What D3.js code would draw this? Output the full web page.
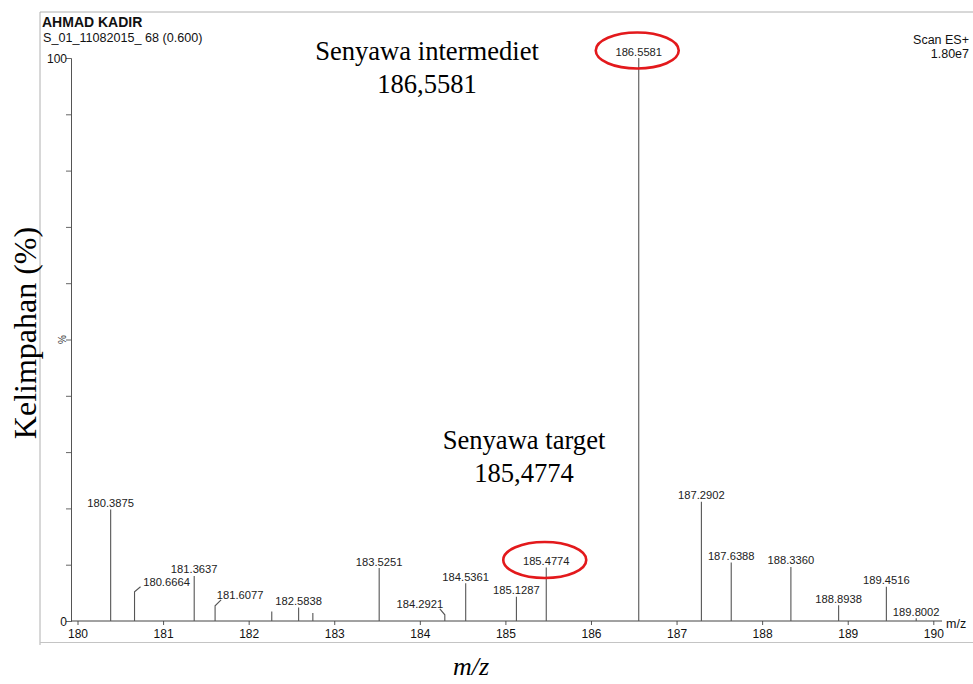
<!DOCTYPE html>
<html>
<head>
<meta charset="utf-8">
<script src="https://cdn.jsdelivr.net/npm/d3@7"></script>
<style>
  body { margin: 0; background: #fff; }
  #chart { width: 973px; height: 684px; }
</style>
</head>
<body>
<div id="chart"></div>
<script>
// peak list (m/z, relative abundance %)
const peakMz = [180.3875, 180.6664, 181.3637, 181.6077, 182.27, 182.5838, 182.75, 183.5251,
    184.2921, 184.5361, 185.1287, 185.4774, 186.5581, 187.2902, 187.6388, 188.3360,
    188.8938, 189.4516, 189.8002];
const peakAbund = [19.8, 5.2, 8.0, 2.7, 1.7, 2.4, 1.4, 9.4,
    1.1, 6.7, 4.3, 9.5, 100, 21.2, 10.4, 9.6,
    2.8, 6.1, 0.5];
const peakLabels = ["180.3875", "180.6664", "181.3637", "181.6077", null, "182.5838", null, "183.5251",
    "184.2921", "184.5361", "185.1287", "185.4774", "186.5581", "187.2902", "187.6388", "188.3360",
    "188.8938", "189.4516", "189.8002"];
const xTicks = [180, 181, 182, 183, 184, 185, 186, 187, 188, 189, 190];
const yTickLabels = [0, 100];
const circled = ["186.5581", "185.4774"];

// labels pushed sideways with a little hook line
const hooks = {"180.6664": {dx: 32, dy: -6}, "181.6077": {dx: 25, dy: -7}, "184.2921": {dx: -25, dy: -7}};

const width = 973, height = 684;
const svg = d3.select("#chart").append("svg")
    .attr("width", width)
    .attr("height", height);

const x = d3.scaleLinear().domain([180, 190]).range([77.5, 933.3]);
const y = d3.scaleLinear().domain([0, 100]).range([621, 58]);
const axisLeftX = 71;

// frame of the scanned printout
svg.append("path")
    .attr("d", "M40,645 L40,12 L973,12")
    .attr("fill", "none").attr("stroke", "#b0b0b0").attr("stroke-width", 1);
svg.append("line")
    .attr("x1", 40).attr("x2", 973).attr("y1", 642.5).attr("y2", 642.5)
    .attr("stroke", "#c4c4c4");

// header
svg.append("text").attr("x", 42).attr("y", 26.5)
    .style("font", "bold 14px 'Liberation Sans', Arial, sans-serif").attr("fill", "#111")
    .text("AHMAD KADIR");
svg.append("text").attr("x", 43).attr("y", 41.5)
    .style("font", "12.6px 'Liberation Sans', Arial, sans-serif").attr("fill", "#111")
    .text("S_01_11082015_ 68 (0.600)");
svg.append("text").attr("x", 969).attr("y", 44).attr("text-anchor", "end")
    .style("font", "12.5px 'Liberation Sans', Arial, sans-serif").attr("fill", "#111")
    .text("Scan ES+");
svg.append("text").attr("x", 969).attr("y", 57.5).attr("text-anchor", "end")
    .style("font", "12.5px 'Liberation Sans', Arial, sans-serif").attr("fill", "#111")
    .text("1.80e7");

// y axis
const yAxis = svg.append("g").attr("transform", `translate(${axisLeftX},0)`)
    .call(d3.axisLeft(y).tickValues(d3.range(0, 101, 10)).tickSize(5)
        .tickFormat(d => yTickLabels.includes(d) ? d : ""));
yAxis.select(".domain").attr("stroke", "#555");
yAxis.selectAll(".tick line").attr("stroke", "#666");
yAxis.selectAll(".tick text")
    .style("font", "12px 'Liberation Sans', Arial, sans-serif").attr("fill", "#111")
    .attr("x", -4).attr("dy", "0.36em");

svg.append("text")
    .attr("transform", `translate(66,${y(50)}) rotate(-90)`)
    .attr("text-anchor", "middle")
    .style("font", "10px 'Liberation Sans', Arial, sans-serif").attr("fill", "#333")
    .text("%");

// x axis
const xAxis = svg.append("g").attr("transform", `translate(0,${y(0)})`)
    .call(d3.axisBottom(x).tickValues(xTicks).tickSize(4).tickFormat(d3.format("d")));
xAxis.select(".domain").remove();
xAxis.selectAll(".tick line").attr("stroke", "#555");
xAxis.selectAll(".tick text")
    .style("font", "12px 'Liberation Sans', Arial, sans-serif").attr("fill", "#111")
    .attr("y", 8);
svg.append("line")
    .attr("x1", axisLeftX).attr("x2", 942).attr("y1", y(0)).attr("y2", y(0))
    .attr("stroke", "#444");
svg.append("text").attr("x", 946).attr("y", 628)
    .style("font", "12.5px 'Liberation Sans', Arial, sans-serif").attr("fill", "#111")
    .text("m/z");

// peaks
const peaks = peakMz.map((mz, i) => ({mz, abund: peakAbund[i], label: peakLabels[i]}));

svg.append("g").selectAll("path")
    .data(peaks)
    .join("path")
    .attr("d", d => {
        const px = x(d.mz), top = y(d.abund);
        const h = hooks[d.label];
        let p = `M${px},${y(0)} L${px},${top}`;
        if (h) p += ` L${px + (h.dx > 0 ? 6 : -5)},${top + h.dy + 1}`;
        return p;
    })
    .attr("fill", "none")
    .attr("stroke", "#555")
    .attr("stroke-width", 1.1);

const labelPos = d => {
    const h = hooks[d.label];
    const px = x(d.mz), top = y(d.abund);
    if (h) return {x: px + h.dx, y: top + h.dy};
    return {x: px, y: top - 2.5};
};

svg.append("g").selectAll("text")
    .data(peaks.filter(d => d.label))
    .join("text")
    .attr("x", d => labelPos(d).x)
    .attr("y", d => labelPos(d).y)
    .attr("text-anchor", "middle")
    .style("font", "11.2px 'Liberation Sans', Arial, sans-serif")
    .attr("fill", "#222")
    .text(d => d.label);

// red circles round the two highlighted labels
svg.append("g").selectAll("ellipse")
    .data(peaks.filter(d => circled.includes(d.label)))
    .join("ellipse")
    .attr("cx", d => labelPos(d).x - 1.5)
    .attr("cy", d => labelPos(d).y - 5)
    .attr("rx", 41.5)
    .attr("ry", 18)
    .attr("fill", "none")
    .attr("stroke", "#e3191c")
    .attr("stroke-width", 2.6);

// annotations
const serif = "'Liberation Serif', 'Times New Roman', serif";
svg.append("text").attr("x", 427).attr("y", 60).attr("text-anchor", "middle")
    .style("font", `26.6px ${serif}`).attr("fill", "#000").text("Senyawa intermediet");
svg.append("text").attr("x", 427).attr("y", 93).attr("text-anchor", "middle")
    .style("font", `26.6px ${serif}`).attr("fill", "#000").text("186,5581");
svg.append("text").attr("x", 524).attr("y", 449).attr("text-anchor", "middle")
    .style("font", `26.6px ${serif}`).attr("fill", "#000").text("Senyawa target");
svg.append("text").attr("x", 524).attr("y", 482).attr("text-anchor", "middle")
    .style("font", `26.6px ${serif}`).attr("fill", "#000").text("185,4774");

svg.append("text")
    .attr("transform", "translate(36,333) rotate(-90)")
    .attr("text-anchor", "middle")
    .style("font", `32px ${serif}`).attr("fill", "#000")
    .text("Kelimpahan (%)");
svg.append("text").attr("x", 471).attr("y", 675).attr("text-anchor", "middle")
    .style("font", `italic 26px ${serif}`).attr("fill", "#000")
    .text("m/z");
</script>
</body>
</html>
